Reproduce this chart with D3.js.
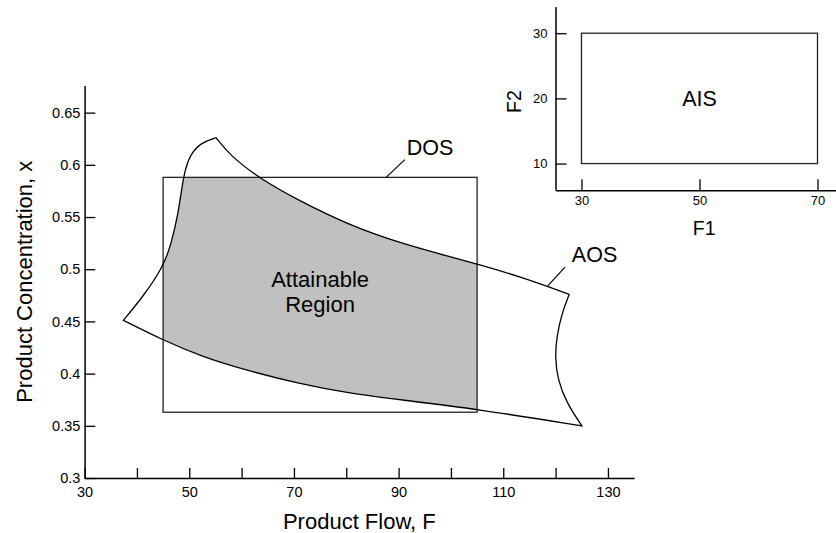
<!DOCTYPE html>
<html>
<head>
<meta charset="utf-8">
<script src="https://cdn.jsdelivr.net/npm/d3@7"></script>
<style>
  body { margin: 0; background: #fff; }
  svg { display: block; font-family: "Liberation Sans", Arial, sans-serif; }
</style>
</head>
<body>
<svg id="chart" width="836" height="533"></svg>
<script>
// Main chart ticks
const flowTicks = [30, 40, 50, 60, 70, 80, 90, 100, 110, 120, 130];
const flowLabels = [30, 50, 70, 90, 110, 130];
const concTicks = [0.3, 0.35, 0.4, 0.45, 0.5, 0.55, 0.6, 0.65];

// AOS boundary, [F, x] points, one array per edge
const aosLeft = [[37.4, 0.451], [41.2, 0.474], [45.0, 0.502], [46.6, 0.525], [47.9, 0.554],
  [48.6, 0.579], [49.2, 0.595], [50.1, 0.609], [52.1, 0.621], [55.1, 0.626]];
const aosTop = [[55.1, 0.626], [57.8, 0.609], [63.1, 0.588], [71.2, 0.565], [80.7, 0.542],
  [90.3, 0.525], [99.8, 0.512], [105.0, 0.505], [113.2, 0.493], [122.6, 0.476]];
const aosRight = [[122.6, 0.476], [121.2, 0.458], [120.2, 0.435], [119.9, 0.416],
  [120.4, 0.394], [122.1, 0.372], [125.0, 0.350]];
const aosBottom = [[125.0, 0.350], [105.0, 0.366], [90.3, 0.375], [80.7, 0.381],
  [71.2, 0.390], [60.3, 0.404], [52.1, 0.417], [45.0, 0.432], [37.4, 0.451]];

// DOS box
const dosFlow = [45, 105];
const dosConc = [0.363, 0.588];

// Inset (AIS)
const f1Ticks = [30, 50, 70];
const f2Ticks = [10, 20, 30];
const aisF1 = [30, 70];
const aisF2 = [10, 30];

const svg = d3.select("#chart");

const x = d3.scaleLinear().domain([30, 135]).range([84.6, 634.1]);
const y = d3.scaleLinear().domain([0.3, 0.676]).range([478, 85.5]);

// clip for the attainable region
svg.append("defs").append("clipPath").attr("id", "dosClip")
  .append("rect")
  .attr("x", x(dosFlow[0]))
  .attr("y", y(dosConc[1]))
  .attr("width", x(dosFlow[1]) - x(dosFlow[0]))
  .attr("height", y(dosConc[0]) - y(dosConc[1]));

const edgeLine = d3.line()
  .x(d => x(d[0]))
  .y(d => y(d[1]))
  .curve(d3.curveBasis);

const aosPath = [aosLeft, aosTop, aosRight, aosBottom].map((e, i) => {
  const s = edgeLine(e);
  return i ? s.replace(/^M/, "L") : s;
}).join("") + "Z";

// shaded intersection
svg.append("path")
  .attr("d", aosPath)
  .attr("fill", "#c0c0c0")
  .attr("clip-path", "url(#dosClip)");

// DOS rectangle
svg.append("rect")
  .attr("x", x(dosFlow[0]))
  .attr("y", y(dosConc[1]))
  .attr("width", x(dosFlow[1]) - x(dosFlow[0]))
  .attr("height", y(dosConc[0]) - y(dosConc[1]))
  .attr("fill", "none")
  .attr("stroke", "#222")
  .attr("stroke-width", 1.3);

// AOS outline
svg.append("path")
  .attr("d", aosPath)
  .attr("fill", "none")
  .attr("stroke", "#000")
  .attr("stroke-width", 1.3)
  .attr("stroke-linejoin", "miter");

// axes
function styleAxis(g, size) {
  g.attr("font-family", null).attr("font-size", null);
  g.select(".domain").attr("stroke", "#000").attr("stroke-width", 1.5);
  g.selectAll(".tick line").attr("stroke", "#000").attr("stroke-width", 1.3);
  g.selectAll(".tick text").attr("font-size", size).attr("fill", "#000");
}

svg.append("g")
  .attr("transform", `translate(0,${y(0.3)})`)
  .call(d3.axisBottom(x)
    .tickValues(flowTicks)
    .tickSize(-10)
    .tickSizeOuter(0)
    .tickPadding(8.7)
    .tickFormat(d => flowLabels.includes(d) ? d : ""))
  .call(g => styleAxis(g, 14.5));

svg.append("g")
  .attr("transform", `translate(${x(30)},0)`)
  .call(d3.axisLeft(y)
    .tickValues(concTicks)
    .tickSize(-10.7)
    .tickSizeOuter(0)
    .tickPadding(4.3)
    .tickFormat(d => String(+d.toFixed(2))))
  .call(g => styleAxis(g, 14.5));

svg.append("text")
  .attr("x", (x.range()[0] + x.range()[1]) / 2)
  .attr("y", 529)
  .attr("text-anchor", "middle")
  .attr("font-size", 22)
  .text("Product Flow, F");

svg.append("text")
  .attr("transform", `translate(31.7,${(y.range()[0] + y.range()[1]) / 2}) rotate(-90)`)
  .attr("text-anchor", "middle")
  .attr("font-size", 22)
  .text("Product Concentration, x");

// region label
svg.append("text")
  .attr("x", x(75))
  .attr("y", y(0.4832))
  .attr("text-anchor", "middle")
  .attr("font-size", 22)
  .text("Attainable");
svg.append("text")
  .attr("x", x(75))
  .attr("y", y(0.4587))
  .attr("text-anchor", "middle")
  .attr("font-size", 22)
  .text("Region");

// leader lines + labels
function callout(p0, p1, pt, label) {
  svg.append("line")
    .attr("x1", x(p0[0])).attr("y1", y(p0[1]))
    .attr("x2", x(p1[0])).attr("y2", y(p1[1]))
    .attr("stroke", "#000").attr("stroke-width", 1.2);
  svg.append("text")
    .attr("x", x(pt[0])).attr("y", y(pt[1]))
    .attr("font-size", 21.5)
    .text(label);
}
callout([87.6, 0.588], [91.2, 0.605], [91.55, 0.609], "DOS");
callout([118.5, 0.484], [121.8, 0.502], [123.1, 0.5066], "AOS");

// ---- inset: AIS ----
const ix = d3.scaleLinear().domain([25.6, 76]).range([555.5, 852.9]);
const iy = d3.scaleLinear().domain([5.9, 34.1]).range([190.3, 6.5]);

svg.append("rect")
  .attr("x", ix(aisF1[0]))
  .attr("y", iy(aisF2[1]))
  .attr("width", ix(aisF1[1]) - ix(aisF1[0]))
  .attr("height", iy(aisF2[0]) - iy(aisF2[1]))
  .attr("fill", "none")
  .attr("stroke", "#222")
  .attr("stroke-width", 1.3);

svg.append("g")
  .attr("transform", `translate(0,${iy.range()[0]})`)
  .call(d3.axisBottom(ix)
    .tickValues(f1Ticks)
    .tickSize(-11)
    .tickSizeOuter(0)
    .tickPadding(5.5))
  .call(g => styleAxis(g, 13));

svg.append("g")
  .attr("transform", `translate(${ix.range()[0]},0)`)
  .call(d3.axisLeft(iy)
    .tickValues(f2Ticks)
    .tickSize(-11)
    .tickSizeOuter(0)
    .tickPadding(8))
  .call(g => styleAxis(g, 13));

svg.append("text")
  .attr("x", ix(50))
  .attr("y", iy(20))
  .attr("dy", "0.35em")
  .attr("text-anchor", "middle")
  .attr("font-size", 21.5)
  .text("AIS");

svg.append("text")
  .attr("x", (ix.range()[0] + ix.range()[1]) / 2)
  .attr("y", 235)
  .attr("text-anchor", "middle")
  .attr("font-size", 19.5)
  .text("F1");

svg.append("text")
  .attr("transform", `translate(520.7,101.5) rotate(-90)`)
  .attr("text-anchor", "middle")
  .attr("font-size", 19.5)
  .text("F2");
</script>
</body>
</html>
